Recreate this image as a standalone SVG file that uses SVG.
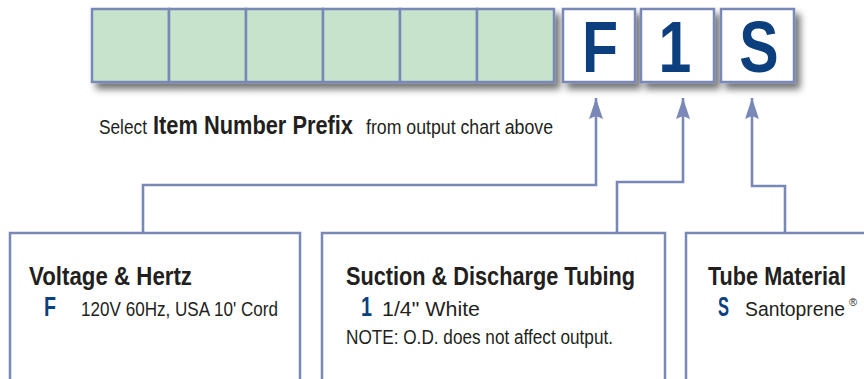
<svg xmlns="http://www.w3.org/2000/svg" width="864" height="379" viewBox="0 0 864 379">
<style>
  .cell{fill:#c8e3cb;stroke:#7a88b8;stroke-width:2.5}
  .box{fill:#ffffff;stroke:#7a88b8;stroke-width:2.5}
  .panel{fill:#ffffff;stroke:#7a88b8;stroke-width:2.5}
  .conn{fill:none;stroke:#7a88b8;stroke-width:2.6}
  .big{font-family:"Liberation Sans",Arial,sans-serif;font-weight:bold;font-size:72px;fill:#0b3f7e;text-anchor:middle}
  .head{font-family:"Liberation Sans",Arial,sans-serif;font-weight:bold;font-size:26px;fill:#231f20}
  .code{font-family:"Liberation Sans",Arial,sans-serif;font-weight:bold;font-size:27px;fill:#0b3f7e}
  .desc{font-family:"Liberation Sans",Arial,sans-serif;font-size:20.5px;fill:#231f20}
  .reg{font-family:"Liberation Sans",Arial,sans-serif;font-size:11px;fill:#231f20}
  .sel{font-family:"Liberation Sans",Arial,sans-serif;font-size:20.5px;fill:#231f20}
  .selb{font-family:"Liberation Sans",Arial,sans-serif;font-weight:bold;font-size:26px;fill:#231f20}
</style>
<defs>
  <filter id="shadow" x="-10%" y="-30%" width="130%" height="180%">
    <feDropShadow dx="5" dy="6" stdDeviation="3.5" flood-color="#000" flood-opacity="0.55"/>
  </filter>
  <marker id="arrow" viewBox="-21 -7 21 14" refX="0" refY="0" markerWidth="21" markerHeight="14" markerUnits="userSpaceOnUse" orient="auto">
    <path d="M0,0 L-21,-7 L-18,0 L-21,7 Z" fill="#7a88b8"/>
  </marker>
</defs>

<g id="prefix-cells" filter="url(#shadow)">
  <rect class="cell" x="92" y="9" width="77" height="73"/>
  <rect class="cell" x="169" y="9" width="77" height="73"/>
  <rect class="cell" x="246" y="9" width="77" height="73"/>
  <rect class="cell" x="323" y="9" width="77" height="73"/>
  <rect class="cell" x="400" y="9" width="77" height="73"/>
  <rect class="cell" x="477" y="9" width="77" height="73"/>
</g>

<g id="code-F">
  <rect class="box" x="563" y="9" width="72" height="73" filter="url(#shadow)"/>
  <text class="big" transform="translate(600,72) scale(0.82,1)">F</text>
</g>
<g id="code-1">
  <rect class="box" x="641" y="9" width="73" height="73" filter="url(#shadow)"/>
  <text class="big" transform="translate(675,72) scale(0.82,1)">1</text>
</g>
<g id="code-S">
  <rect class="box" x="721" y="9" width="73" height="73" filter="url(#shadow)"/>
  <text class="big" transform="translate(759,72) scale(0.82,1)">S</text>
</g>

<g id="instruction">
  <text class="sel" x="99" y="134" textLength="48" lengthAdjust="spacingAndGlyphs">Select</text>
  <text class="selb" x="153" y="134" textLength="200" lengthAdjust="spacingAndGlyphs">Item Number Prefix</text>
  <text class="sel" x="366" y="134" textLength="187" lengthAdjust="spacingAndGlyphs">from output chart above</text>
</g>

<g id="connectors">
  <path class="conn" d="M143,233 V185 H596 V98" marker-end="url(#arrow)"/>
  <path class="conn" d="M617,233 V182 H683 V98" marker-end="url(#arrow)"/>
  <path class="conn" d="M785,233 V186 H752 V98" marker-end="url(#arrow)"/>
</g>

<g id="voltage-hertz">
  <rect class="panel" x="10" y="233" width="290" height="160"/>
  <text class="head" x="29" y="285" textLength="163" lengthAdjust="spacingAndGlyphs">Voltage &amp; Hertz</text>
  <text class="code" x="44" y="316" textLength="12" lengthAdjust="spacingAndGlyphs">F</text>
  <text class="desc" x="81" y="316" textLength="197" lengthAdjust="spacingAndGlyphs">120V 60Hz, USA 10' Cord</text>
</g>

<g id="tubing">
  <rect class="panel" x="322" y="233" width="343" height="160"/>
  <text class="head" x="346" y="285" textLength="289" lengthAdjust="spacingAndGlyphs">Suction &amp; Discharge Tubing</text>
  <text class="code" x="361" y="316" textLength="11" lengthAdjust="spacingAndGlyphs">1</text>
  <text class="desc" x="382" y="316" textLength="98" lengthAdjust="spacingAndGlyphs">1/4" White</text>
  <text class="desc" x="346" y="344" textLength="267" lengthAdjust="spacingAndGlyphs">NOTE: O.D. does not affect output.</text>
</g>

<g id="tube-material">
  <rect class="panel" x="686" y="233" width="200" height="160"/>
  <text class="head" x="708" y="285" textLength="138" lengthAdjust="spacingAndGlyphs">Tube Material</text>
  <text class="code" x="718" y="316" textLength="11" lengthAdjust="spacingAndGlyphs">S</text>
  <text class="desc" x="745" y="316" textLength="100" lengthAdjust="spacingAndGlyphs">Santoprene</text>
  <text class="reg" x="849" y="306">®</text>
</g>
</svg>
